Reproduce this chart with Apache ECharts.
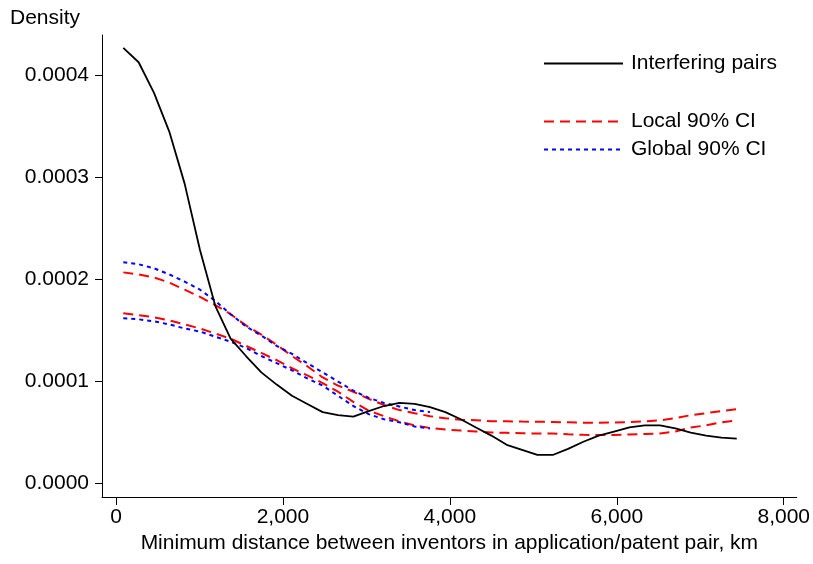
<!DOCTYPE html>
<html>
<head>
<meta charset="utf-8">
<script src="https://cdn.jsdelivr.net/npm/echarts@6/dist/echarts.min.js"></script>
<style>
  html, body { margin: 0; padding: 0; background: #fff; }
  #chart { width: 813px; height: 564px; }
</style>
</head>
<body>
<div id="chart"></div>
<script>
// distance grid (km)
const distKm = [87, 271, 455, 638, 822, 1006, 1190, 1373, 1557, 1741, 1925,
  2108, 2292, 2476, 2660, 2843, 3027, 3211, 3395, 3578, 3762,
  3946, 4130, 4313, 4497, 4681, 4865, 5048, 5232, 5416, 5600,
  5783, 5967, 6151, 6335, 6518, 6702, 6886, 7070, 7253, 7437]

const interfering = [0.000427, 0.000413, 0.000383, 0.000345, 0.000294, 0.000229, 0.000174, 0.000142, 0.000125, 0.000109, 0.000097,
  0.000086, 0.000078, 0.000070, 0.000067, 0.0000655, 0.000071, 0.000076, 0.000079, 0.000078, 0.000075,
  0.000070, 0.000063, 0.000055, 0.000047, 0.000038, 0.000033, 0.000028, 0.000028, 0.000034, 0.000041,
  0.000047, 0.000051, 0.000055, 0.000057, 0.000057, 0.000054, 0.000050, 0.000047, 0.000045, 0.000044]

const localUpper = [0.000207, 0.000205, 0.000202, 0.000197, 0.000190, 0.000183, 0.000175, 0.000166, 0.000155, 0.000146, 0.000136,
  0.000125, 0.000115, 0.000104, 0.000096, 0.000090, 0.000083, 0.000077, 0.000072, 0.000069, 0.000066,
  0.000064, 0.0000625, 0.000062, 0.000061, 0.000061, 0.0000607, 0.0000606, 0.0000603, 0.000060, 0.0000597,
  0.0000596, 0.0000598, 0.0000603, 0.000061, 0.000062, 0.000064, 0.000067, 0.000069, 0.000071, 0.000073]

const localLower = [0.000167, 0.000165, 0.000163, 0.000160, 0.000156, 0.000152, 0.000147, 0.000142, 0.000135, 0.000128, 0.000121,
  0.000113, 0.000106, 0.0000985, 0.000090, 0.000080, 0.0000715, 0.000066, 0.000061, 0.000057, 0.0000545,
  0.000053, 0.000052, 0.000051, 0.000050, 0.0000497, 0.0000493, 0.000049, 0.000049, 0.0000483, 0.0000478,
  0.0000475, 0.0000477, 0.000048, 0.0000485, 0.000049, 0.000051, 0.000055, 0.000057, 0.000060, 0.000062]

const globalUpper = [0.000217, 0.000215, 0.000211, 0.000205, 0.000198, 0.000190, 0.000179, 0.000166, 0.000154, 0.000145, 0.000135,
  0.000127, 0.000118, 0.000109, 0.000100, 0.000091, 0.000084, 0.000079, 0.0000755, 0.000072, 0.000070]

const globalLower = [0.000162, 0.000161, 0.000159, 0.000156, 0.000152, 0.000149, 0.000144, 0.000139, 0.000133, 0.000125, 0.000118,
  0.000111, 0.000103, 0.000096, 0.000086, 0.000076, 0.000068, 0.000063, 0.000060, 0.000056, 0.000054]

const xTicks = [0, 2000, 4000, 6000, 8000]
const yTicks = [0, 0.0001, 0.0002, 0.0003, 0.0004]

const pairs = (ys) => ys.map((y, i) => [distKm[i], y])

const chart = echarts.init(document.getElementById('chart'))
const font = 'Liberation Sans, Arial, sans-serif'

const localStyle = { color: '#ff0000', width: 2, type: [10, 6] }
const globalStyle = { color: '#0000ff', width: 2, type: [4, 4] }

const option = {
  animation: false,
  backgroundColor: '#fff',
  textStyle: { fontFamily: font, color: '#000' },
  title: {
    text: 'Density',
    left: 5,
    top: 3,
    textStyle: { fontSize: 21, fontWeight: 'normal', color: '#000', fontFamily: font }
  },
  legend: [
    {
      data: ['Interfering pairs'],
      left: 538,
      top: 48,
      itemWidth: 79,
      itemHeight: 14,
      itemStyle: { opacity: 0 },
      textStyle: { fontSize: 21, color: '#000', fontFamily: font, padding: [0, 0, 0, 3] }
    },
    {
      data: ['Local 90% CI', 'Global 90% CI'],
      orient: 'vertical',
      left: 538,
      top: 106,
      itemGap: 7,
      itemWidth: 79,
      itemHeight: 14,
      itemStyle: { opacity: 0 },
      textStyle: { fontSize: 21, color: '#000', fontFamily: font, padding: [0, 0, 0, 3] }
    }
  ],
  grid: { left: 102, right: 16, top: 35, bottom: 67, containLabel: false },
  xAxis: {
    type: 'value',
    min: -168,
    max: 8156,
    name: 'Minimum distance between inventors in application/patent pair, km',
    nameLocation: 'middle',
    nameGap: 35,
    nameTextStyle: { fontSize: 21, color: '#000', fontFamily: font },
    axisLine: { show: true, onZero: false, lineStyle: { color: '#000', width: 1 } },
    axisTick: { show: true, length: 8, customValues: xTicks, lineStyle: { color: '#000' } },
    axisLabel: {
      customValues: xTicks,
      fontSize: 21,
      color: '#000',
      margin: 10,
      formatter: (v) => v.toLocaleString('en-US')
    },
    splitLine: { show: false }
  },
  yAxis: {
    type: 'value',
    min: -0.0000132,
    max: 0.0004397,
    axisLine: { show: true, onZero: false, lineStyle: { color: '#000', width: 1 } },
    axisTick: { show: true, length: 7, customValues: yTicks, lineStyle: { color: '#000' } },
    axisLabel: {
      customValues: yTicks,
      fontSize: 21,
      color: '#000',
      margin: 13,
      formatter: (v) => v.toFixed(4)
    },
    splitLine: { show: false }
  },
  series: [
    {
      name: 'Local 90% CI', type: 'line', symbol: 'none',
      data: pairs(localUpper), lineStyle: localStyle, itemStyle: { color: '#ff0000' }
    },
    {
      name: 'Local 90% CI', type: 'line', symbol: 'none',
      data: pairs(localLower), lineStyle: localStyle, itemStyle: { color: '#ff0000' }
    },
    {
      name: 'Global 90% CI', type: 'line', symbol: 'none',
      data: pairs(globalUpper), lineStyle: globalStyle, itemStyle: { color: '#0000ff' }
    },
    {
      name: 'Global 90% CI', type: 'line', symbol: 'none',
      data: pairs(globalLower), lineStyle: globalStyle, itemStyle: { color: '#0000ff' }
    },
    {
      name: 'Interfering pairs', type: 'line', symbol: 'none', z: 5,
      data: pairs(interfering),
      lineStyle: { color: '#000', width: 1.8 }, itemStyle: { color: '#000' }
    }
  ]
}

chart.setOption(option)
</script>
</body>
</html>
